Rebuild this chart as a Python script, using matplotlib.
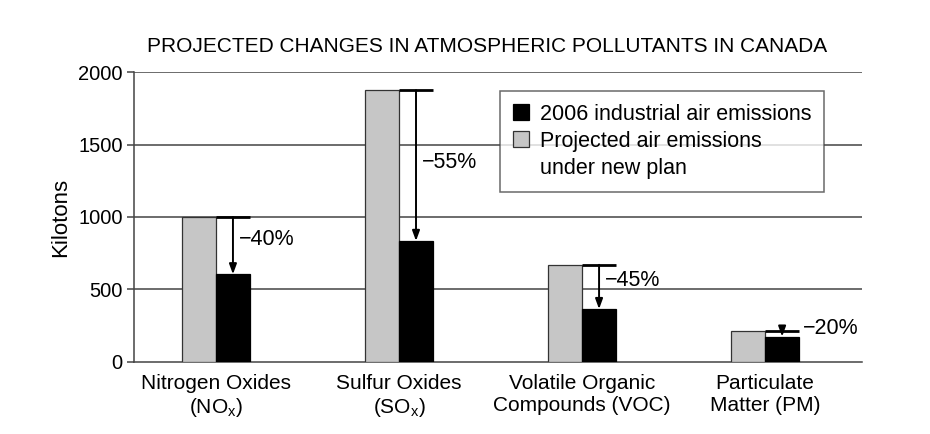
import matplotlib
matplotlib.use("Agg")
import matplotlib.pyplot as plt
import matplotlib.patches as mpatches
import numpy as np

categories = ["Nitrogen Oxides\n(NO$_\\mathregular{x}$)", "Sulfur Oxides\n(SO$_\\mathregular{x}$)",
              "Volatile Organic\nCompounds (VOC)", "Particulate\nMatter (PM)"]
projected = [1000, 1875, 670, 215]     # gray bars
emissions_2006 = [605, 835, 365, 175]  # black bars
pct_labels = ["\u221240%", "\u221255%", "\u221245%", "\u221220%"]
yticks = [0, 500, 1000, 1500, 2000]
legend_black = "2006 industrial air emissions"
legend_gray = ["Projected air emissions", "under new plan"]

plt.rcParams['font.family'] = ['Liberation Sans', 'DejaVu Sans']
plt.rcParams['mathtext.fontset'] = 'custom'
plt.rcParams['mathtext.rm'] = 'Liberation Sans'

fig = plt.figure(figsize=(9.3, 4.34), dpi=100)
ax = fig.add_axes([0.144, 0.166, 0.783, 0.668])

x = np.arange(len(categories))
w = 0.186
gray = "#c6c6c6"
b_gray = ax.bar(x - w/2, projected, w, color=gray, edgecolor="#333333", linewidth=0.9, zorder=3)
b_black = ax.bar(x + w/2, emissions_2006, w, color="black", edgecolor="black", linewidth=0.9,
                 zorder=3)

for yv in yticks[1:]:
    ax.axhline(yv, color="#444444", linewidth=1.1, zorder=1)

label_frac = [0.40, 0.48, 0.36, 0.0]
for i in range(len(categories)):
    hi, lo = projected[i], emissions_2006[i]
    xr = x[i] + w
    ax.plot([x[i], xr], [hi, hi], color="black", linewidth=2.0, zorder=4,
            solid_capstyle="butt")
    ax.annotate("", xy=(x[i] + w/2, lo), xytext=(x[i] + w/2, hi),
                arrowprops=dict(arrowstyle="-|>,head_length=0.6,head_width=0.22",
                                color="black", lw=1.4, shrinkA=0, shrinkB=0), zorder=5)
    if i < 3:
        ty = hi - label_frac[i] * (hi - lo)
        ax.text(x[i] + w/2 + 0.03, ty, pct_labels[i], fontsize=15.5, ha="left", va="center",
                zorder=6)
    else:
        ax.text(xr + 0.02, hi + 15, pct_labels[i], fontsize=15.5, ha="left", va="center",
                zorder=6)

ax.set_xlim(-0.448, 3.53)
ax.set_ylim(0, 2000)
ax.set_yticks(yticks)
ax.set_yticklabels([str(v) for v in yticks], fontsize=14.5)
ax.set_xticks(x)
ax.set_xticklabels(categories, fontsize=15, linespacing=1.15)
ax.tick_params(axis='x', length=0, pad=9)
ax.tick_params(axis='y', length=5, width=1.1, color="#444444", pad=3)
for s in ["top", "right"]:
    ax.spines[s].set_visible(False)
ax.spines["left"].set_color("#444444")
ax.spines["bottom"].set_color("#444444")
ax.spines["left"].set_linewidth(1.1)
ax.spines["bottom"].set_linewidth(1.1)

ax.set_ylabel("Kilotons", fontsize=16, labelpad=5)
fig.text(487 / 930, 1 - 47 / 434, "PROJECTED CHANGES IN ATMOSPHERIC POLLUTANTS IN CANADA",
         fontsize=15, ha="center", va="center")

blank = mpatches.Patch(facecolor="none", edgecolor="none")
leg = ax.legend([b_black, b_gray, blank], [legend_black] + legend_gray,
                loc="upper left", bbox_to_anchor=(0.503, 0.935),
                fontsize=15.5, frameon=True, fancybox=False, edgecolor="#444444",
                handlelength=0.75, handleheight=0.75, handletextpad=0.5, borderpad=0.6,
                labelspacing=0.28, borderaxespad=0)
leg.get_frame().set_linewidth(1.1)
leg.set_zorder(10)

fig.savefig("out.png", dpi=100, facecolor="white")
